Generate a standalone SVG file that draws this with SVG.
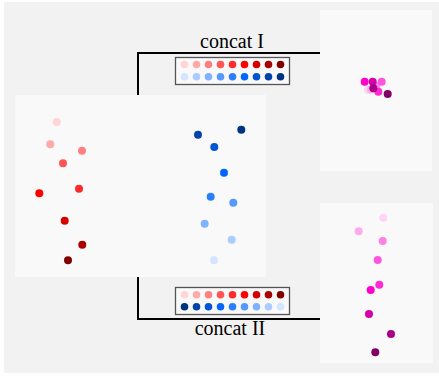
<svg xmlns="http://www.w3.org/2000/svg" width="439" height="377" viewBox="0 0 439 377">
<style>
.panel{fill:#f9f9f9}
.conn{fill:none;stroke:#000;stroke-width:2}
.legend{fill:#f9f9f9;stroke:#555;stroke-width:1.3}
.lbl{font-family:"Liberation Serif","Times New Roman",serif;font-size:20px;fill:#000;text-anchor:middle}
circle{stroke:none}
.r1{fill:#ffd5d5}.r2{fill:#ffaaaa}.r3{fill:#ff8080}.r4{fill:#ff5555}.r5{fill:#ff2a2a}.r6{fill:#ff0000}.r7{fill:#d40000}.r8{fill:#aa0000}.r9{fill:#800000}
.b1{fill:#d5e5ff}.b2{fill:#aaccff}.b3{fill:#80b3ff}.b4{fill:#5599ff}.b5{fill:#2a7fff}.b6{fill:#0066ff}.b7{fill:#0055d4}.b8{fill:#0044aa}.b9{fill:#003380}
.m1{fill:#ffd5f6}.m2{fill:#ffaaee}.m3{fill:#ff80e5}.m4{fill:#ff55dd}.m5{fill:#ff2ad4}.m6{fill:#ff00cc}.m7{fill:#d400aa}.m8{fill:#aa0088}.m9{fill:#800066}
</style>
<rect x="4" y="2" width="435" height="371" fill="#f2f2f2"/>
<g id="connectors">
<path class="conn" d="M138,95 V53 H320"/>
<path class="conn" d="M138,277 V319 H320"/>
</g>
<g id="input">
<rect class="panel" x="15" y="95" width="251" height="182"/>
<circle class="r1" cx="56.7" cy="122" r="4"/>
<circle class="r2" cx="50.3" cy="144.3" r="4"/>
<circle class="r3" cx="82" cy="150.7" r="4"/>
<circle class="r4" cx="63" cy="163.3" r="4"/>
<circle class="r5" cx="79" cy="188.7" r="4"/>
<circle class="r6" cx="39.3" cy="193.3" r="4"/>
<circle class="r7" cx="64.7" cy="220.7" r="4"/>
<circle class="r8" cx="82.3" cy="244.7" r="4"/>
<circle class="r9" cx="68" cy="260.3" r="4"/>
<circle class="b8" cx="198" cy="134.7" r="4"/>
<circle class="b9" cx="241.3" cy="129.7" r="4"/>
<circle class="b7" cx="214.3" cy="147" r="4"/>
<circle class="b6" cx="224" cy="172.7" r="4"/>
<circle class="b5" cx="210.7" cy="196.7" r="4"/>
<circle class="b4" cx="233.3" cy="202.7" r="4"/>
<circle class="b3" cx="204.7" cy="223.7" r="4"/>
<circle class="b2" cx="231.7" cy="239.7" r="4"/>
<circle class="b1" cx="214" cy="260.3" r="4"/>
</g>
<g id="concat1">
<text class="lbl" x="232" y="48">concat I</text>
<rect class="legend" x="175.5" y="57.5" width="114" height="27"/>
<circle class="r1" cx="184.5" cy="64.5" r="3.8"/><circle class="r2" cx="196.5" cy="64.5" r="3.8"/><circle class="r3" cx="208.5" cy="64.5" r="3.8"/><circle class="r4" cx="220.5" cy="64.5" r="3.8"/><circle class="r5" cx="232.5" cy="64.5" r="3.8"/><circle class="r6" cx="244.5" cy="64.5" r="3.8"/><circle class="r7" cx="256.5" cy="64.5" r="3.8"/><circle class="r8" cx="268.5" cy="64.5" r="3.8"/><circle class="r9" cx="280.5" cy="64.5" r="3.8"/>
<circle class="b1" cx="184.5" cy="76.7" r="3.8"/><circle class="b2" cx="196.5" cy="76.7" r="3.8"/><circle class="b3" cx="208.5" cy="76.7" r="3.8"/><circle class="b4" cx="220.5" cy="76.7" r="3.8"/><circle class="b5" cx="232.5" cy="76.7" r="3.8"/><circle class="b6" cx="244.5" cy="76.7" r="3.8"/><circle class="b7" cx="256.5" cy="76.7" r="3.8"/><circle class="b8" cx="268.5" cy="76.7" r="3.8"/><circle class="b9" cx="280.5" cy="76.7" r="3.8"/>
</g>
<g id="concat2">
<text class="lbl" x="230" y="335">concat II</text>
<rect class="legend" x="175.5" y="287.5" width="114" height="27"/>
<circle class="r1" cx="184.5" cy="294.7" r="3.8"/><circle class="r2" cx="196.5" cy="294.7" r="3.8"/><circle class="r3" cx="208.5" cy="294.7" r="3.8"/><circle class="r4" cx="220.5" cy="294.7" r="3.8"/><circle class="r5" cx="232.5" cy="294.7" r="3.8"/><circle class="r6" cx="244.5" cy="294.7" r="3.8"/><circle class="r7" cx="256.5" cy="294.7" r="3.8"/><circle class="r8" cx="268.5" cy="294.7" r="3.8"/><circle class="r9" cx="280.5" cy="294.7" r="3.8"/>
<circle class="b9" cx="184.5" cy="306.7" r="3.8"/><circle class="b8" cx="196.5" cy="306.7" r="3.8"/><circle class="b7" cx="208.5" cy="306.7" r="3.8"/><circle class="b6" cx="220.5" cy="306.7" r="3.8"/><circle class="b5" cx="232.5" cy="306.7" r="3.8"/><circle class="b4" cx="244.5" cy="306.7" r="3.8"/><circle class="b3" cx="256.5" cy="306.7" r="3.8"/><circle class="b2" cx="268.5" cy="306.7" r="3.8"/><circle class="b1" cx="280.5" cy="306.7" r="3.8"/>
</g>
<g id="output1">
<rect class="panel" x="320" y="10" width="112" height="161"/>
<circle class="m1" cx="368" cy="90" r="4"/>
<circle class="m2" cx="371" cy="89.5" r="4"/>
<circle class="m3" cx="376" cy="86" r="4"/>
<circle class="m6" cx="364.7" cy="81.7" r="4"/>
<circle class="m7" cx="372.7" cy="81.7" r="4"/>
<circle class="m4" cx="381.7" cy="81.7" r="4"/>
<circle class="m5" cx="378.3" cy="91.7" r="4"/>
<circle class="m8" cx="373.3" cy="88.3" r="4"/>
<circle class="m9" cx="387.7" cy="94" r="4"/>
</g>
<g id="output2">
<rect class="panel" x="320" y="203" width="113" height="160"/>
<circle class="m1" cx="383.3" cy="217.7" r="4"/>
<circle class="m2" cx="358.7" cy="231.3" r="4"/>
<circle class="m3" cx="382.7" cy="241" r="4"/>
<circle class="m4" cx="377.7" cy="260" r="4"/>
<circle class="m5" cx="379.3" cy="284.7" r="4"/>
<circle class="m6" cx="370.7" cy="290" r="4"/>
<circle class="m7" cx="369" cy="314" r="4"/>
<circle class="m8" cx="391" cy="334" r="4"/>
<circle class="m9" cx="375.3" cy="352.3" r="4"/>
</g>
</svg>
